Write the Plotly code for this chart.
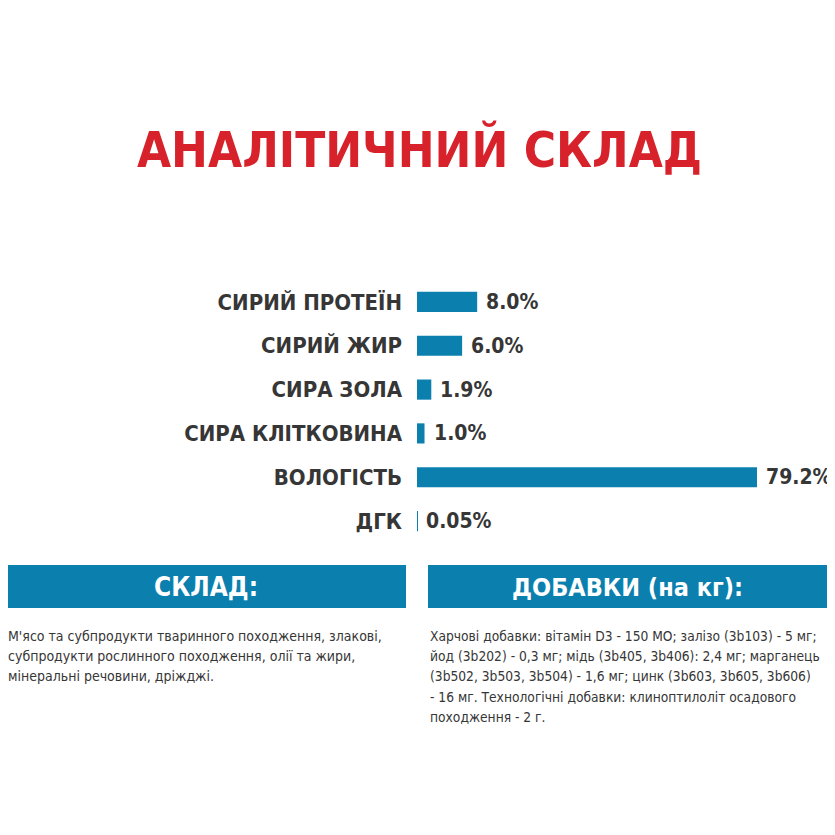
import plotly.graph_objects as go

# ---------------- data ----------------
categories = ["СИРИЙ ПРОТЕЇН", "СИРИЙ ЖИР", "СИРА ЗОЛА", "СИРА КЛІТКОВИНА", "ВОЛОГІСТЬ", "ДГК"]
values = [8.0, 6.0, 1.9, 1.0, 79.2, 0.05]
value_labels = ["8.0%", "6.0%", "1.9%", "1.0%", "79.2%", "0.05%"]
title_text = "АНАЛІТИЧНИЙ СКЛАД"
left_header = "СКЛАД:"
right_header = "ДОБАВКИ (на кг):"
left_body = [
    "М'ясо та субпродукти тваринного походження, злакові,",
    "субпродукти рослинного походження, олії та жири,",
    "мінеральні речовини, дріжджі.",
]
right_body = [
    "Харчові добавки: вітамін D3 - 150 МО; залізо (3b103) - 5 мг;",
    "йод (3b202) - 0,3 мг; мідь (3b405, 3b406): 2,4 мг; марганець",
    "(3b502, 3b503, 3b504) - 1,6 мг; цинк (3b603, 3b605, 3b606)",
    "- 16 мг. Технологічні добавки: клиноптилоліт осадового",
    "походження - 2 г.",
]

# ---------------- style ----------------
PAGE = 835
OFF = 8            # default page margin of the html body
W = H = PAGE - OFF
BLUE = "#0b80ae"
RED = "#d8222b"
DARK = "#363636"
FONT = "DejaVu Sans Condensed, Liberation Sans Narrow, sans-serif"
XMAX = 45.2  # axis is cut here; the longest bar runs to the edge


def fx(p):
    return (p - OFF) / W


def fy(p):
    return 1 - (p - OFF) / H


fig = go.Figure(
    go.Bar(
        x=values,
        y=categories,
        orientation="h",
        marker=dict(color=BLUE, line=dict(width=0)),
        width=0.46,
        hoverinfo="skip",
    )
)

annotations = []
for cat, v, lab in zip(categories, values, value_labels):
    annotations.append(dict(
        x=min(v, XMAX), y=cat, xref="x", yref="y", text=lab,
        xanchor="left", yanchor="middle", xshift=7, showarrow=False,
        font=dict(family=FONT, size=21, color=DARK, weight="bold"),
    ))

# title
annotations.append(dict(
    x=fx(419), y=fy(149), xref="paper", yref="paper", text=title_text,
    xanchor="center", yanchor="middle", showarrow=False,
    font=dict(family=FONT, size=49, color=RED, weight="bold"),
))

# header boxes
shapes = [
    dict(type="rect", xref="paper", yref="paper", x0=fx(7), x1=fx(406), y0=fy(608), y1=fy(565),
         fillcolor=BLUE, line=dict(width=0), layer="below"),
    dict(type="rect", xref="paper", yref="paper", x0=fx(428), x1=fx(827), y0=fy(608), y1=fy(565),
         fillcolor=BLUE, line=dict(width=0), layer="below"),
]
annotations.append(dict(
    x=fx(206), y=fy(587), xref="paper", yref="paper", text=left_header,
    xanchor="center", yanchor="middle", showarrow=False,
    font=dict(family=FONT, size=26, color="white", weight="bold"),
))
annotations.append(dict(
    x=fx(627), y=fy(587), xref="paper", yref="paper", text=right_header,
    xanchor="center", yanchor="middle", showarrow=False,
    font=dict(family=FONT, size=25, color="white", weight="bold"),
))

# body texts (one annotation per line, 20 px line pitch)
for i, line in enumerate(left_body):
    annotations.append(dict(
        x=fx(6), y=fy(636 + 20.2 * i), xref="paper", yref="paper", text=line,
        xanchor="left", yanchor="middle", align="left", showarrow=False,
        font=dict(family=FONT, size=14, color=DARK),
    ))
for i, line in enumerate(right_body):
    annotations.append(dict(
        x=fx(428), y=fy(636 + 20.2 * i), xref="paper", yref="paper", text=line,
        xanchor="left", yanchor="middle", align="left", showarrow=False,
        font=dict(family=FONT, size=13.7, color=DARK),
    ))

fig.update_layout(
    width=W, height=H,
    margin=dict(l=0, r=0, t=0, b=0),
    paper_bgcolor="white", plot_bgcolor="white",
    showlegend=False,
    xaxis=dict(range=[0, XMAX], domain=[fx(417), fx(757)], visible=False, fixedrange=True),
    yaxis=dict(
        domain=[fy(543), fy(280)], autorange="reversed",
        showgrid=False, zeroline=False, showline=False, ticks="",
        ticklabelstandoff=14,
        tickfont=dict(family=FONT, size=22, color=DARK, weight="bold"),
        fixedrange=True,
    ),
    annotations=annotations,
    shapes=shapes,
)

fig.write_html("out.html")
